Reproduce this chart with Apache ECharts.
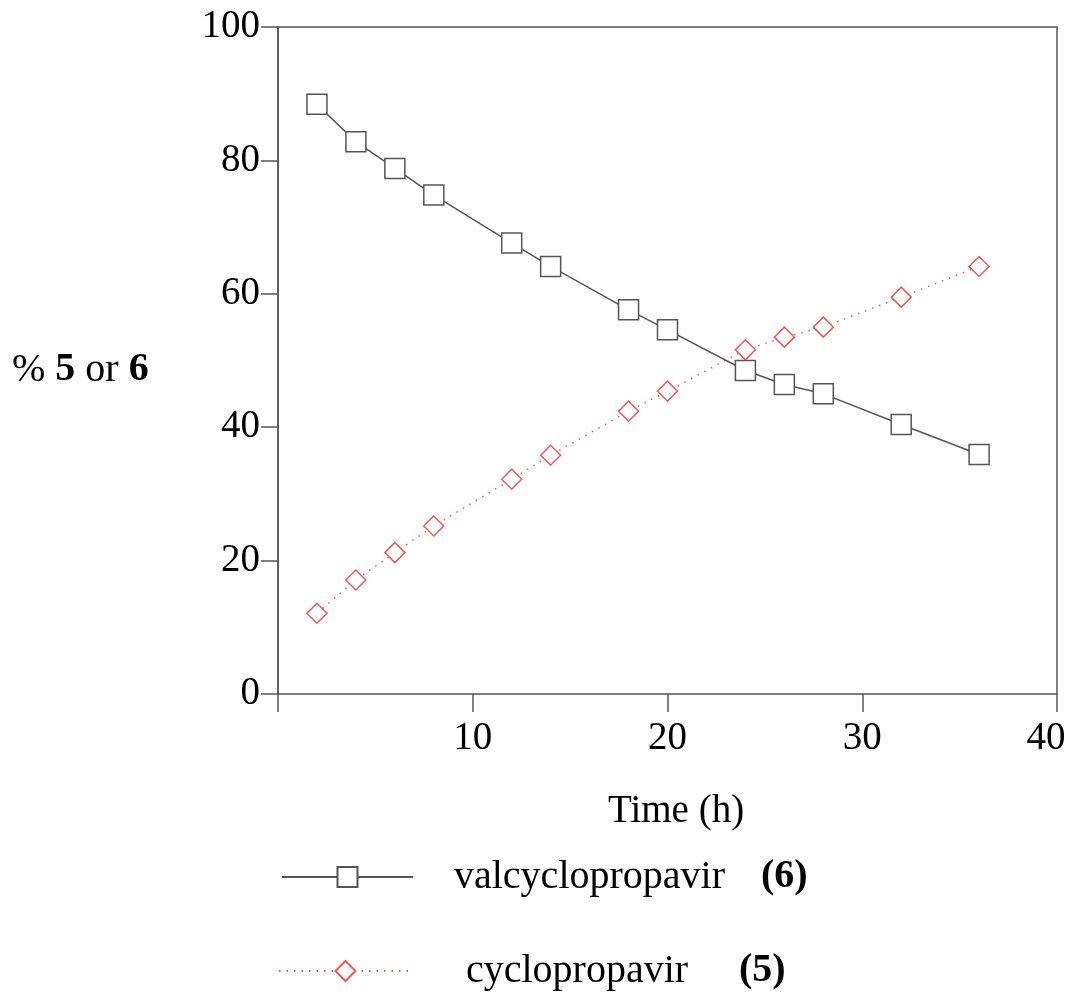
<!DOCTYPE html>
<html>
<head>
<meta charset="utf-8">
<script src="https://cdn.jsdelivr.net/npm/echarts@6/dist/echarts.min.js"></script>
<style>
  html, body { margin: 0; padding: 0; background: #fff; }
  #chart { width: 1073px; height: 996px; }
</style>
</head>
<body>
<div id="chart"></div>
<script>
// Sampling times (h)
const timesH = [2, 4, 6, 8, 12, 14, 18, 20, 24, 26, 28, 32, 36];
// % valcyclopropavir (6) remaining
const valcyclopropavir = [88.4, 82.8, 78.8, 74.8, 67.6, 64.1, 57.6, 54.6, 48.5, 46.4, 45.0, 40.4, 35.9];
// % cyclopropavir (5) formed
const cyclopropavir = [12.1, 17.1, 21.2, 25.2, 32.2, 35.8, 42.4, 45.4, 51.6, 53.5, 55.0, 59.5, 64.1];
// Axis ranges and ticks
const xTicks = [0, 10, 20, 30, 40];
const yTicks = [0, 20, 40, 60, 80, 100];

const FONT = '"Liberation Serif", "Times New Roman", serif';
const AXIS_COLOR = '#555555';
const RED = '#e85a5a';

const pairs = (xs, ys) => xs.map((x, i) => [x, ys[i]]);
const xMax = xTicks[xTicks.length - 1];

const chart = echarts.init(document.getElementById('chart'), null, { renderer: 'canvas' });

chart.setOption({
  animation: false,
  backgroundColor: '#ffffff',
  textStyle: { fontFamily: FONT, color: '#000' },
  grid: {
    left: 278, top: 27, right: 16, bottom: 302,
    outerBoundsMode: 'none',
    containLabel: false,
    show: true, borderColor: AXIS_COLOR, borderWidth: 1.5, backgroundColor: 'transparent'
  },
  xAxis: {
    type: 'value',
    min: xTicks[0], max: xMax, interval: xTicks[1] - xTicks[0],
    offset: 3,
    axisLine: { show: false },
    axisTick: { show: true, length: 18, lineStyle: { color: AXIS_COLOR, width: 1.5 } },
    axisLabel: {
      margin: 22, fontSize: 39, color: '#000', fontFamily: FONT,
      // last label is nudged left so it stays inside the canvas
      formatter: v => (v === 0 ? '' : v === xMax ? '{m|' + v + '}' : String(v)),
      rich: {
        m: { fontFamily: FONT, fontSize: 39, color: '#000', padding: [0, 22, 0, 0] }
      }
    },
    splitLine: { show: false }
  },
  yAxis: {
    type: 'value',
    min: yTicks[0], max: yTicks[yTicks.length - 1], interval: yTicks[1] - yTicks[0],
    axisLine: { show: true, lineStyle: { color: AXIS_COLOR, width: 1.5 } },
    axisTick: { show: true, length: 17, lineStyle: { color: AXIS_COLOR, width: 1.5 } },
    axisLabel: { margin: 18, fontSize: 39, color: '#000', fontFamily: FONT },
    splitLine: { show: false }
  },
  legend: [
    {
      data: ['valcyclopropavir'],
      left: 276, top: 852,
      itemWidth: 131, itemHeight: 25,
      selectedMode: false,
      formatter: () => '{n|valcyclopropavir}{b|(6)}',
      textStyle: {
        padding: [0, 0, 0, 36],
        rich: {
          n: { fontFamily: FONT, fontSize: 40, color: '#000', width: 307 },
          b: { fontFamily: FONT, fontSize: 40, fontWeight: 'bold', color: '#000' }
        }
      }
    },
    {
      data: ['cyclopropavir'],
      left: 273, top: 946,
      itemWidth: 133, itemHeight: 25,
      selectedMode: false,
      formatter: () => '{n|cyclopropavir}{b|(5)}',
      textStyle: {
        padding: [0, 0, 0, 49],
        rich: {
          n: { fontFamily: FONT, fontSize: 40, color: '#000', width: 273 },
          b: { fontFamily: FONT, fontSize: 40, fontWeight: 'bold', color: '#000' }
        }
      }
    }
  ],
  graphic: [
    {
      type: 'text', left: 12, top: 350,
      style: {
        text: '{r|% }{b|5}{r| or }{b|6}',
        rich: {
          r: { fontFamily: FONT, fontSize: 40, fill: '#000' },
          b: { fontFamily: FONT, fontSize: 40, fontWeight: 'bold', fill: '#000' }
        }
      }
    },
    {
      type: 'text', left: 608, top: 792,
      style: { text: 'Time (h)', fontFamily: FONT, fontSize: 39, fill: '#000' }
    }
  ],
  series: [
    {
      name: 'cyclopropavir',
      type: 'line',
      data: pairs(timesH, cyclopropavir),
      symbol: 'diamond',
      symbolSize: 20,
      z: 2,
      lineStyle: { color: RED, width: 1.5, type: [1.5, 6] },
      itemStyle: { color: '#ffffff', borderColor: RED, borderWidth: 1.5 },
      emphasis: { disabled: true }
    },
    {
      name: 'valcyclopropavir',
      type: 'line',
      data: pairs(timesH, valcyclopropavir),
      symbol: 'rect',
      symbolSize: 20,
      z: 3,
      lineStyle: { color: AXIS_COLOR, width: 1.5, type: 'solid' },
      itemStyle: { color: '#ffffff', borderColor: AXIS_COLOR, borderWidth: 1.5 },
      emphasis: { disabled: true }
    }
  ]
});
</script>
</body>
</html>
